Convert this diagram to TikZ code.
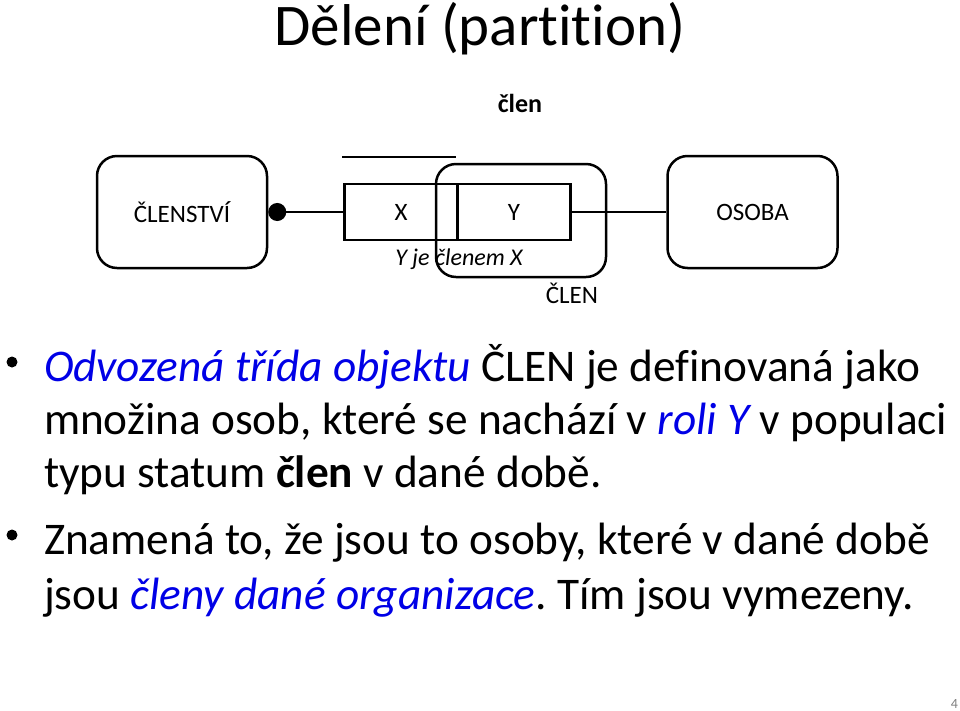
\documentclass[tikz,border=0pt]{standalone}
\usepackage{fontspec}
\setmainfont{Carlito}[Ligatures=CommonOff]
\usetikzlibrary{arrows.meta}
\definecolor{slideblue}{RGB}{0,0,230}
\frenchspacing
\tikzset{
  entity/.style={draw, line width=2.5pt, rounded corners=20pt, minimum width=170pt,
    minimum height=112pt, font=\fontsize{25}{29}\selectfont},
  rolebox/.style={draw, line width=2.5pt, minimum width=113pt, minimum height=56pt,
    font=\fontsize{25}{29}\selectfont},
  bodyline/.style={anchor=base west, inner sep=0pt, font=\fontsize{45.3}{54}\selectfont},
  bulletmark/.style={circle, fill, inner sep=0pt, minimum size=11pt},
}
\begin{document}
\begin{tikzpicture}[x=1pt, y=-1pt, line width=2pt]
  \useasboundingbox (0,0) rectangle (960,710);
  % title
  \node[anchor=base, inner sep=0pt, font=\fontsize{59}{70}\selectfont] (title) at (480,45) {Dělení (partition)};
  % diagram
  \node[font=\bfseries\fontsize{26}{30}\selectfont] (role) at (520,103) {člen};
  \node[entity] (clenstvi) at (182,212) {ČLENSTVÍ};
  \node[entity] (osoba) at (752.5,212) {OSOBA};
  \node[rolebox] (x) at (401,212) {X};
  \node[rolebox] (y) at (514,212) {Y};
  \node[entity, minimum height=113pt] (clen) at (521,220.5) {};
  \node[font=\fontsize{25}{29}\selectfont] (clenlbl) at (572,293) {ČLEN};
  \node[font=\itshape\fontsize{24}{28}\selectfont] (memb) at (459,259) {Y je členem X};
  \draw (342,157) -- (456,157);
  \draw[{Circle[length=18pt]}-] (clenstvi) -- (x);
  \draw (y) -- (osoba);
  % bullets
  \node[bulletmark] (d1) at (12,362) {};
  \node[bodyline] (b1) at (43,381) {\textcolor{slideblue}{\itshape Odvozená třída objektu} ČLEN je definovaná jako};
  \node[bodyline] (b1l2) at (43,434) {množina osob, které se nachází v \textcolor{slideblue}{\itshape roli Y} v populaci};
  \node[bodyline] (b1l3) at (43,487) {typu statum \textbf{člen} v dané době.};
  \node[bulletmark] (d2) at (12,535) {};
  \node[bodyline] (b2) at (43,554) {Znamená to, že jsou to osoby, které v dané době};
  \node[bodyline] (b2l2) at (43,609) {jsou \textcolor{slideblue}{\itshape členy dané organizace}. Tím jsou vymezeny.};
  \node[anchor=base east, inner sep=0pt, text=gray, font=\fontsize{14}{16}\selectfont] (pnum) at (959,708) {4};
\end{tikzpicture}
\end{document}
